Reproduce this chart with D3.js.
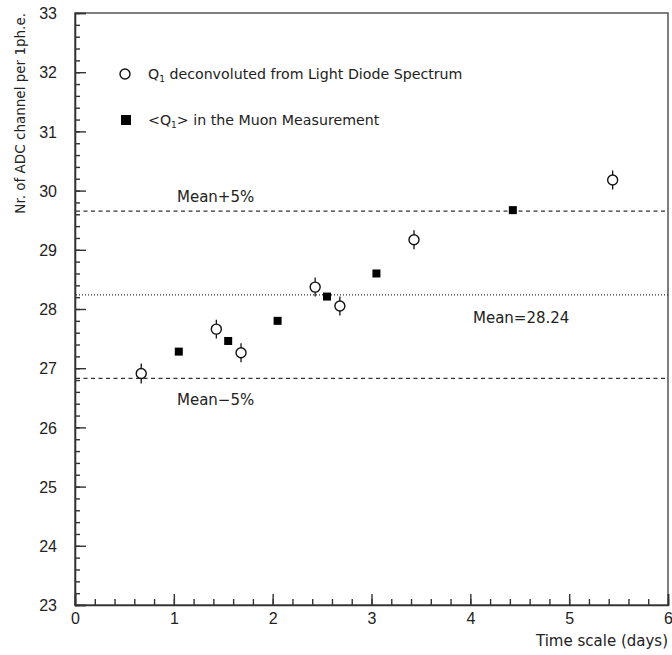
<!DOCTYPE html>
<html>
<head>
<meta charset="utf-8">
<script src="https://cdn.jsdelivr.net/npm/d3@7"></script>
<style>
  body { margin: 0; background: #fff; }
  svg text { fill: #222; }
</style>
</head>
<body>
<div id="chart"></div>
<script>
// light diode points (open circles with error bars)
var diodeX = [0.67, 1.43, 1.68, 2.43, 2.68, 3.43, 5.44]
var diodeY = [26.91, 27.66, 27.26, 28.37, 28.05, 29.17, 30.18]
var diodeErr = [0.17, 0.16, 0.16, 0.16, 0.16, 0.16, 0.16]
// muon measurement points (filled squares)
var muonX = [1.05, 1.55, 2.05, 2.55, 3.05, 4.43]
var muonY = [27.28, 27.46, 27.80, 28.21, 28.60, 29.67]

var mean = 28.24
var xTicks = [0, 1, 2, 3, 4, 5, 6]
var yTicks = [23, 24, 25, 26, 27, 28, 29, 30, 31, 32, 33]

var width = 672, height = 655
var plotLeft = 75, plotRight = 668, plotTop = 13, plotBottom = 605

var svg = d3.select("#chart").append("svg")
    .attr("width", width)
    .attr("height", height)

var x = d3.scaleLinear().domain([0, 6]).range([plotLeft, plotRight])
var y = d3.scaleLinear().domain([23, 33]).range([plotBottom, plotTop])

// frame
svg.append("rect")
    .attr("x", plotLeft).attr("y", plotTop)
    .attr("width", plotRight - plotLeft).attr("height", plotBottom - plotTop)
    .attr("fill", "none").attr("stroke", "#555").attr("stroke-width", 1.5)

// minor ticks
var minorY = d3.range(23, 33.01, 0.2)
var minorX = d3.range(0, 6.01, 0.2)

svg.append("g")
    .attr("transform", "translate(" + plotLeft + ",0)")
    .call(d3.axisLeft(y).tickValues(minorY).tickSize(-5).tickFormat(""))
    .call(function (g) { g.select(".domain").remove() })
svg.append("g")
    .attr("transform", "translate(0," + plotBottom + ")")
    .call(d3.axisBottom(x).tickValues(minorX).tickSize(-6).tickFormat(""))
    .call(function (g) { g.select(".domain").remove() })

// major ticks + labels
var yAxis = svg.append("g")
    .attr("transform", "translate(" + plotLeft + ",0)")
    .call(d3.axisLeft(y).tickValues(yTicks).tickSize(-11).tickPadding(18).tickFormat(d3.format("d")))
var xAxis = svg.append("g")
    .attr("transform", "translate(0," + plotBottom + ")")
    .call(d3.axisBottom(x).tickValues(xTicks).tickSize(-11).tickPadding(7).tickFormat(d3.format("d")))

svg.selectAll(".tick line").attr("stroke", "#333").attr("stroke-width", 1.4)
svg.selectAll(".domain").attr("stroke", "#333").attr("stroke-width", 1.6)
svg.selectAll(".tick text")
    .attr("font-family", "'Liberation Sans', sans-serif")
    .attr("font-size", 16)
    .attr("fill", "#222")
yAxis.selectAll(".tick text").attr("dy", "0.36em")
xAxis.selectAll(".tick text").attr("dy", "0.75em")

// reference lines
var refLines = [
    {v: mean * 1.05, dash: "4,3.5"},
    {v: mean, dash: "1,2"},
    {v: mean * 0.95, dash: "4,3.5"}
]
svg.selectAll(".ref")
    .data(refLines)
    .enter().append("line")
    .attr("class", "ref")
    .attr("x1", plotLeft + 1).attr("x2", plotRight)
    .attr("y1", function (d) { return y(d.v) })
    .attr("y2", function (d) { return y(d.v) })
    .attr("stroke", "#333")
    .attr("stroke-width", 1.2)
    .attr("stroke-dasharray", function (d) { return d.dash })

var font = "'DejaVu Sans', sans-serif"

svg.append("text").attr("x", 177).attr("y", y(mean * 1.05) - 9)
    .attr("font-family", font).attr("font-size", 15).text("Mean+5%")
svg.append("text").attr("x", 177).attr("y", y(mean * 0.95) + 27)
    .attr("font-family", font).attr("font-size", 15).text("Mean\u22125%")
svg.append("text").attr("x", 473).attr("y", y(mean) + 28)
    .attr("font-family", font).attr("font-size", 15).text("Mean=28.24")

// error bars
var diode = diodeX.map(function (d, i) { return {x: d, y: diodeY[i], e: diodeErr[i]} })
svg.selectAll(".err")
    .data(diode)
    .enter().append("line")
    .attr("class", "err")
    .attr("x1", function (d) { return x(d.x) })
    .attr("x2", function (d) { return x(d.x) })
    .attr("y1", function (d) { return y(d.y - d.e) })
    .attr("y2", function (d) { return y(d.y + d.e) })
    .attr("stroke", "#111").attr("stroke-width", 1.3)

svg.selectAll(".diode")
    .data(diode)
    .enter().append("circle")
    .attr("class", "diode")
    .attr("cx", function (d) { return x(d.x) })
    .attr("cy", function (d) { return y(d.y) })
    .attr("r", 5)
    .attr("fill", "#fff").attr("stroke", "#111").attr("stroke-width", 1.4)

var muon = muonX.map(function (d, i) { return {x: d, y: muonY[i]} })
var sq = 8
svg.selectAll(".muon")
    .data(muon)
    .enter().append("rect")
    .attr("class", "muon")
    .attr("x", function (d) { return x(d.x) - sq / 2 })
    .attr("y", function (d) { return y(d.y) - sq / 2 })
    .attr("width", sq).attr("height", sq)
    .attr("fill", "#000")

// legend
svg.append("circle").attr("cx", 125).attr("cy", 74).attr("r", 5)
    .attr("fill", "#fff").attr("stroke", "#111").attr("stroke-width", 1.4)
var l1 = svg.append("text").attr("x", 148).attr("y", 79)
    .attr("font-family", font).attr("font-size", 14.2)
l1.append("tspan").text("Q")
l1.append("tspan").attr("font-size", 9).attr("dy", 3).text("1")
l1.append("tspan").attr("dy", -3).text(" deconvoluted from Light Diode Spectrum")

svg.append("rect").attr("x", 121).attr("y", 115).attr("width", 10).attr("height", 10)
    .attr("fill", "#000")
var l2 = svg.append("text").attr("x", 148).attr("y", 125)
    .attr("font-family", font).attr("font-size", 14.2)
l2.append("tspan").text("<Q")
l2.append("tspan").attr("font-size", 9).attr("dy", 3).text("1")
l2.append("tspan").attr("dy", -3).text("> in the Muon Measurement")

// axis titles
svg.append("text")
    .attr("transform", "translate(25,13) rotate(-90)")
    .attr("text-anchor", "end")
    .attr("font-family", font).attr("font-size", 13.5)
    .text("Nr. of ADC channel per 1ph.e.")

svg.append("text")
    .attr("x", 668).attr("y", 646)
    .attr("text-anchor", "end")
    .attr("font-family", font).attr("font-size", 15)
    .text("Time scale (days)")
</script>
</body>
</html>
